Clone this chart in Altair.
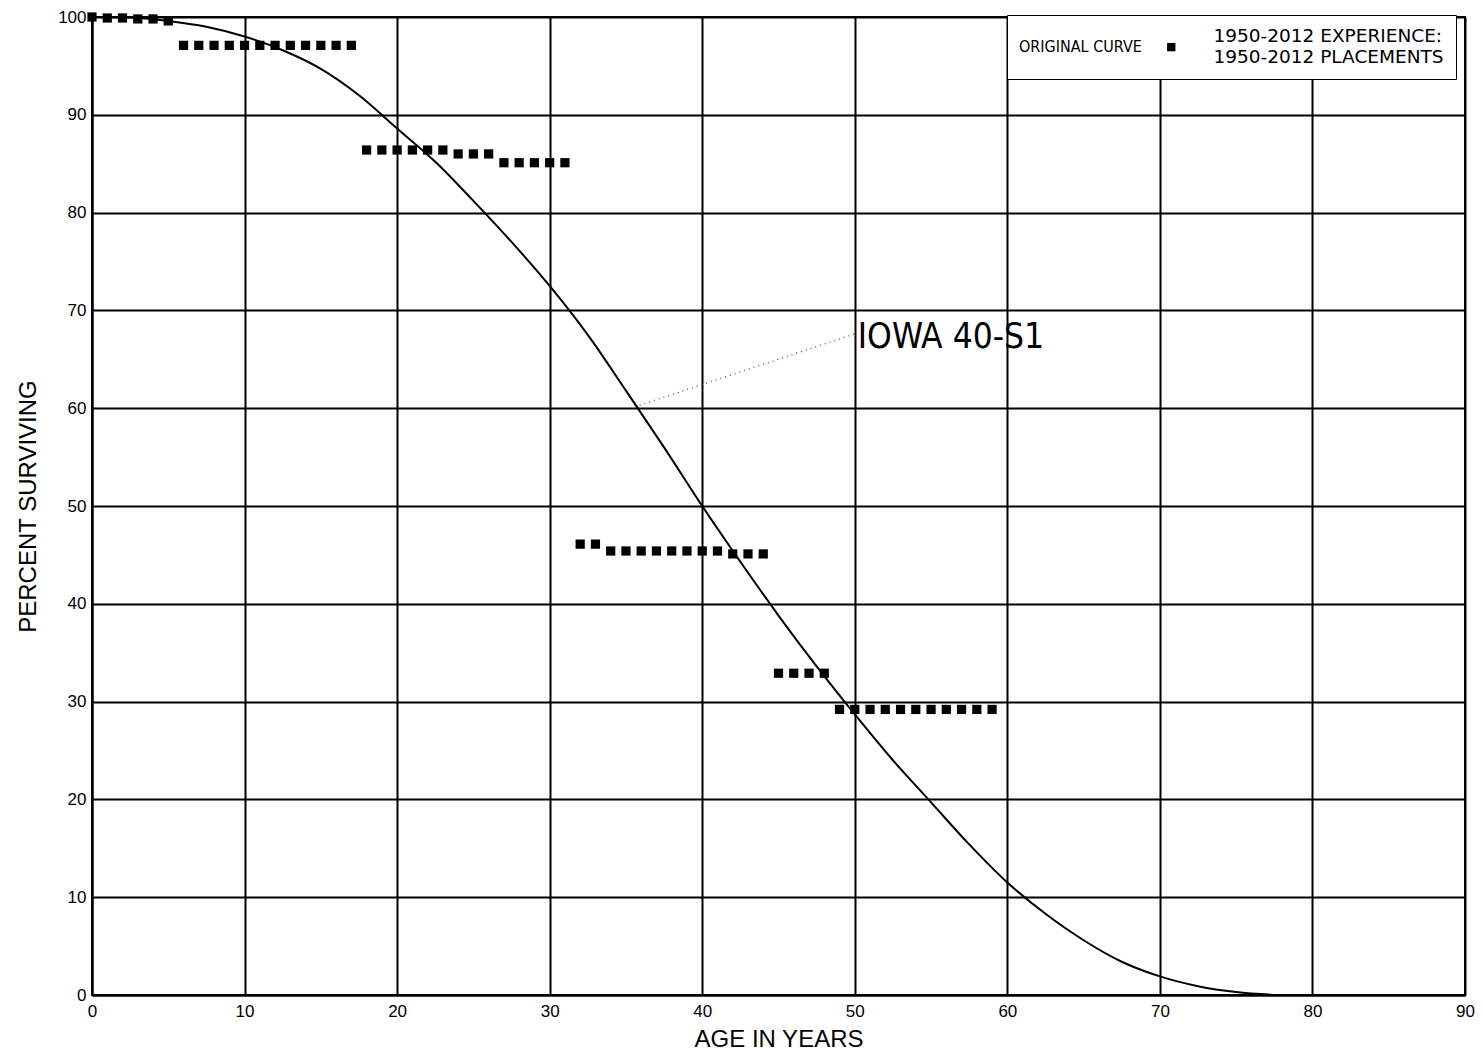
import altair as alt
import pandas as pd

# Iowa 40-S1 survivor curve (age in years, percent surviving)
curve_age = [0, 2.5, 5, 7.5, 10, 12.5, 15, 17.5, 20, 22.5, 25, 27.5, 30, 32.5,
             35, 37.5, 40, 42.5, 45, 47.5, 50, 52.5, 55, 57.5, 60, 62.5, 65,
             67.5, 70, 72.5, 75, 77.5]
curve_pct = [100.0, 99.95, 99.6, 99.0, 98.0, 96.6, 94.7, 92.0, 88.6, 85.2,
             81.2, 77.0, 72.5, 67.5, 61.8, 56.0, 50.0, 44.3, 38.8, 33.6, 28.7,
             24.0, 19.7, 15.4, 11.5, 8.3, 5.6, 3.4, 1.9, 0.9, 0.3, 0.0]

# Observed life table, 1950-2012 experience, 1950-2012 placements
exp_age = list(range(0, 60))
exp_pct = ([100.0, 99.9, 99.9, 99.8, 99.8, 99.6]
           + [97.1] * 12
           + [86.4] * 6 + [86.0] * 3 + [85.1] * 5
           + [46.1] * 2 + [45.4] * 8 + [45.1] * 3
           + [32.9] * 4
           + [29.2] * 11)

# Leader from the curve to its label
leader_age = [35.9, 50.0]
leader_pct = [60.3, 67.6]
label_age = [50.2]
label_pct = [67.3]
label_text = ["IOWA 40-S1"]

curve_df = pd.DataFrame({"age": curve_age, "pct": curve_pct})
exp_df = pd.DataFrame({"age": exp_age, "pct": exp_pct,
                       "series": ["exp"] * len(exp_age)})
leader_df = pd.DataFrame({"age": leader_age, "pct": leader_pct})
label_df = pd.DataFrame({"age": label_age, "pct": label_pct, "text": label_text})

AXIS_FONT = "Liberation Sans"
COND_FONT = "'DejaVu Sans Condensed', 'DejaVu Sans'"
TEXT_FONT = "DejaVu Sans"

# legend square, dropped to sit between the two label lines
LEGEND_SQUARE = "M-1,1.6H1V3.6H-1Z"

x_scale = alt.Scale(domain=[0, 90], nice=False, zero=False)
y_scale = alt.Scale(domain=[0, 100], nice=False)

x_axis = alt.Axis(title="AGE IN YEARS", values=list(range(0, 91, 10)),
                  grid=True, ticks=False, labelPadding=8, titlePadding=8,
                  labelFlush=False)
y_axis = alt.Axis(title="PERCENT SURVIVING", values=list(range(0, 101, 10)),
                  grid=True, ticks=False, labelPadding=6, titlePadding=17,
                  labelFlush=False)

curve = alt.Chart(curve_df).mark_line(
    color="black", strokeWidth=2, interpolate="catmull-rom"
).encode(
    x=alt.X("age:Q", scale=x_scale, axis=x_axis),
    y=alt.Y("pct:Q", scale=y_scale, axis=y_axis),
)

leader = alt.Chart(leader_df).mark_line(
    color="#666666", strokeWidth=1.5, strokeDash=[1, 4]
).encode(x="age:Q", y="pct:Q")

label = alt.Chart(label_df).mark_text(
    align="left", baseline="middle", font=COND_FONT, fontSize=35, color="black"
).encode(x="age:Q", y="pct:Q", text="text:N")

points = alt.Chart(exp_df).mark_square(
    size=85, opacity=1, filled=True
).encode(
    x="age:Q",
    y="pct:Q",
    color=alt.Color(
        "series:N",
        scale=alt.Scale(range=["black"]),
        legend=alt.Legend(
            orient="none", legendX=915, legendY=-2,
            title="ORIGINAL CURVE", titleOrient="left",
            titleFont=COND_FONT, titleFontSize=16, titleFontWeight="normal",
            titleColor="black", titleBaseline="middle", titlePadding=20,
            labelFont=TEXT_FONT, labelFontSize=18.5, labelColor="black",
            labelLimit=500, labelOffset=33,
            labelExpr="['1950-2012 EXPERIENCE:', '1950-2012 PLACEMENTS']",
            symbolType=LEGEND_SQUARE, symbolSize=70, symbolOpacity=1,
            strokeColor="black", fillColor="white", padding=12,
        ),
    ),
)

chart = alt.layer(curve, leader, label, points).properties(
    width=1373, height=978,
    autosize=alt.AutoSizeParams(type="none"),
    padding={"left": 92, "top": 17, "right": 18, "bottom": 58},
).configure_view(
    stroke="black", strokeWidth=2
).configure_axis(
    gridColor="black", gridWidth=2, gridOpacity=1,
    domainColor="black", domainWidth=2,
    labelFont=AXIS_FONT, labelFontSize=17, labelColor="black",
    titleFont=AXIS_FONT, titleFontSize=24, titleFontWeight="normal",
    titleColor="black",
)

chart.save("out.html", embed_options={"renderer": "svg", "actions": False})
